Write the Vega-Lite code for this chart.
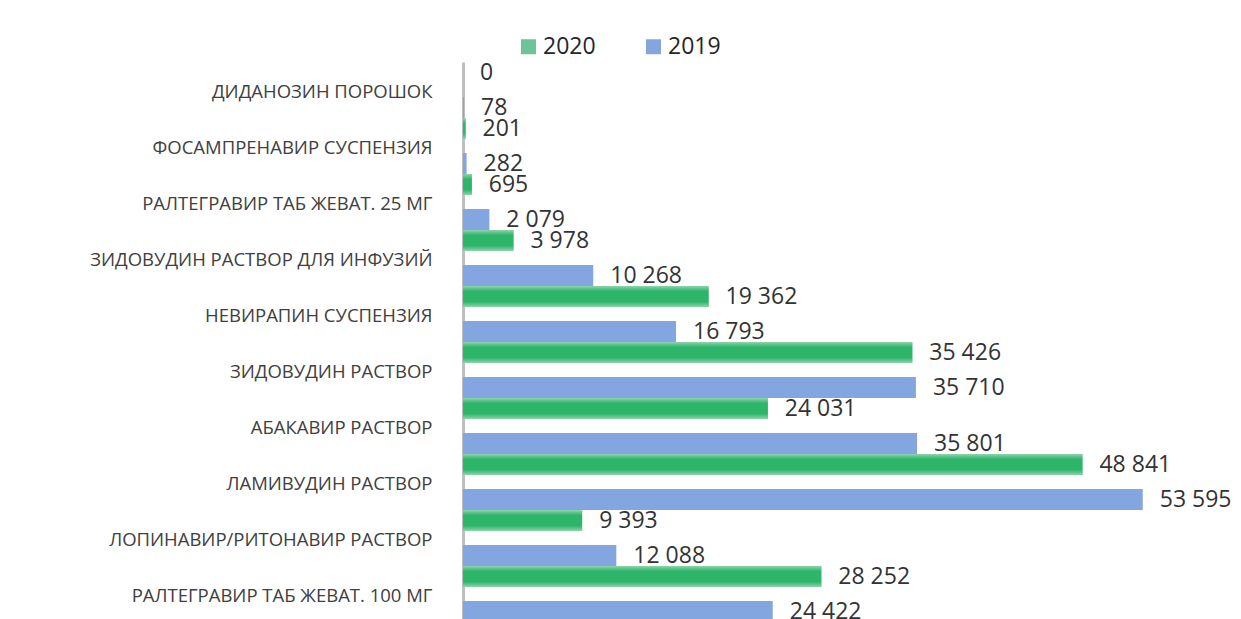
{
  "$schema": "https://vega.github.io/schema/vega-lite/v6.json",
  "autosize": {"type": "none"},
  "width": 761,
  "height": 557,
  "padding": {"left": 463, "top": 62, "right": 17, "bottom": 0},
  "background": "white",
  "config": {
    "view": {"stroke": null},
    "font": "Open Sans",
    "locale": {"number": {"decimal": ",", "thousands": " ", "grouping": [3], "currency": ["", ""]}}
  },
  "data": {
    "values": [
      {"drug": "ДИДАНОЗИН ПОРОШОК", "year": "2020", "value": 0},
      {"drug": "ДИДАНОЗИН ПОРОШОК", "year": "2019", "value": 78},
      {"drug": "ФОСАМПРЕНАВИР СУСПЕНЗИЯ", "year": "2020", "value": 201},
      {"drug": "ФОСАМПРЕНАВИР СУСПЕНЗИЯ", "year": "2019", "value": 282},
      {"drug": "РАЛТЕГРАВИР ТАБ ЖЕВАТ. 25 МГ", "year": "2020", "value": 695},
      {"drug": "РАЛТЕГРАВИР ТАБ ЖЕВАТ. 25 МГ", "year": "2019", "value": 2079},
      {"drug": "ЗИДОВУДИН РАСТВОР ДЛЯ ИНФУЗИЙ", "year": "2020", "value": 3978},
      {"drug": "ЗИДОВУДИН РАСТВОР ДЛЯ ИНФУЗИЙ", "year": "2019", "value": 10268},
      {"drug": "НЕВИРАПИН СУСПЕНЗИЯ", "year": "2020", "value": 19362},
      {"drug": "НЕВИРАПИН СУСПЕНЗИЯ", "year": "2019", "value": 16793},
      {"drug": "ЗИДОВУДИН РАСТВОР", "year": "2020", "value": 35426},
      {"drug": "ЗИДОВУДИН РАСТВОР", "year": "2019", "value": 35710},
      {"drug": "АБАКАВИР РАСТВОР", "year": "2020", "value": 24031},
      {"drug": "АБАКАВИР РАСТВОР", "year": "2019", "value": 35801},
      {"drug": "ЛАМИВУДИН РАСТВОР", "year": "2020", "value": 48841},
      {"drug": "ЛАМИВУДИН РАСТВОР", "year": "2019", "value": 53595},
      {"drug": "ЛОПИНАВИР/РИТОНАВИР РАСТВОР", "year": "2020", "value": 9393},
      {"drug": "ЛОПИНАВИР/РИТОНАВИР РАСТВОР", "year": "2019", "value": 12088},
      {"drug": "РАЛТЕГРАВИР ТАБ ЖЕВАТ. 100 МГ", "year": "2020", "value": 28252},
      {"drug": "РАЛТЕГРАВИР ТАБ ЖЕВАТ. 100 МГ", "year": "2019", "value": 24422}
    ]
  },
  "encoding": {
    "y": {
      "field": "drug",
      "type": "nominal",
      "sort": null,
      "scale": {"range": [0, 560], "paddingInner": 0, "paddingOuter": 0},
      "axis": {
        "title": null,
        "ticks": false,
        "domain": true,
        "domainColor": "#BFBFBF",
        "domainWidth": 3,
        "labelPadding": 31,
        "labelOffset": 2,
        "labelFont": "Open Sans",
        "labelFontSize": 18.5,
        "labelColor": "#404040",
        "labelLimit": 0
      }
    },
    "yOffset": {
      "field": "year",
      "type": "nominal",
      "sort": ["2020", "2019"],
      "scale": {"paddingInner": 0.4, "paddingOuter": 0}
    },
    "x": {
      "field": "value",
      "type": "quantitative",
      "scale": {"domain": [0, 60000], "nice": false, "zero": true},
      "axis": null
    }
  },
  "layer": [
    {
      "mark": {"type": "bar"},
      "encoding": {
        "color": {
          "field": "year",
          "type": "nominal",
          "scale": {"domain": ["2020", "2019"], "range": ["#6CC497", "#84A6E0"]},
          "legend": {
            "orient": "none",
            "legendX": 54,
            "legendY": -27,
            "direction": "horizontal",
            "title": null,
            "symbolType": "square",
            "symbolSize": 225,
            "symbolStrokeWidth": 0,
            "labelFont": "Open Sans",
            "labelFontSize": 23,
            "labelColor": "#262626",
            "labelOffset": 3,
            "columnPadding": 46
          }
        }
      }
    },
    {
      "transform": [{"filter": "datum.year === '2020'"}],
      "mark": {
        "type": "bar",
        "fill": {
          "gradient": "linear",
          "x1": 0, "y1": 0, "x2": 0, "y2": 1,
          "stops": [
            {"offset": 0, "color": "#8ED4AC"},
            {"offset": 0.25, "color": "#2DB569"},
            {"offset": 0.75, "color": "#2DB569"},
            {"offset": 1, "color": "#8ED4AC"}
          ]
        }
      },
      "encoding": {}
    },
    {
      "mark": {"type": "text", "align": "left", "baseline": "middle", "dx": 17, "font": "Open Sans", "fontSize": 23, "color": "#333333"},
      "encoding": {
        "text": {"field": "value", "type": "quantitative", "format": ",d"}
      }
    }
  ]
}
